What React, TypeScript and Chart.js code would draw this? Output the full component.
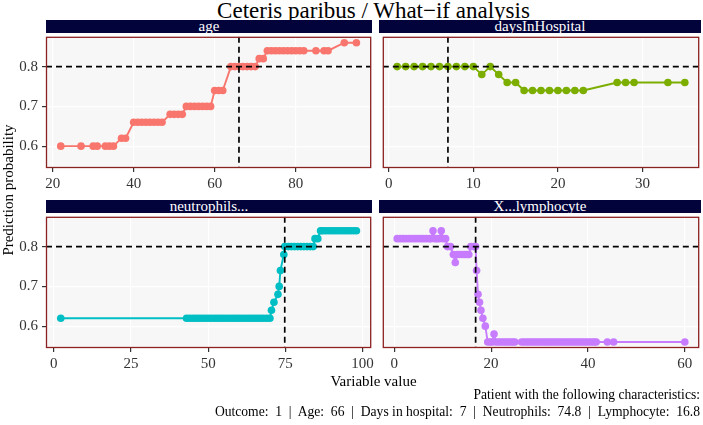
import React, { useEffect, useRef } from "react";
import { Chart, registerables } from "chart.js";

Chart.register(...registerables);

// ---------- data ----------
const panelNames = ["age", "daysInHospital", "neutrophils...", "X...lymphocyte"];
const panelColors = ["#F8766D", "#7CAE00", "#00BFC4", "#C77CFF"];
const observedValues = [66, 7, 74.8, 16.8];
const observedPrediction = 0.8;

const ageX = [22, 27, 30, 31, 33, 34, 35, 37, 38, 40, 41, 42, 43, 44, 45, 46, 47, 49, 50, 51, 52, 53, 54, 55, 56, 57, 58, 59, 60, 61, 62, 64, 65, 66, 67, 68, 69, 70, 71, 72, 73, 74, 75, 76, 77, 78, 79, 80, 81, 82, 85, 87, 88, 92, 95];
const ageY = [0.6, 0.6, 0.6, 0.6, 0.6, 0.6, 0.6, 0.62, 0.62, 0.66, 0.66, 0.66, 0.66, 0.66, 0.66, 0.66, 0.66, 0.68, 0.68, 0.68, 0.68, 0.7, 0.7, 0.7, 0.7, 0.7, 0.7, 0.7, 0.74, 0.74, 0.74, 0.8, 0.8, 0.8, 0.8, 0.8, 0.8, 0.8, 0.82, 0.82, 0.84, 0.84, 0.84, 0.84, 0.84, 0.84, 0.84, 0.84, 0.84, 0.84, 0.84, 0.84, 0.84, 0.86, 0.86];

const daysX = [1, 2, 3, 4, 5, 6, 7, 8, 9, 10, 11, 12, 13, 14, 15, 16, 17, 18, 19, 20, 21, 22, 23, 27, 28, 29, 33, 35];
const daysY = [0.8, 0.8, 0.8, 0.8, 0.8, 0.8, 0.8, 0.8, 0.8, 0.8, 0.78, 0.8, 0.78, 0.76, 0.76, 0.74, 0.74, 0.74, 0.74, 0.74, 0.74, 0.74, 0.74, 0.76, 0.76, 0.76, 0.76, 0.76];

const neutX = [2.3, 43, 44, 45, 46, 47, 48, 49, 50, 51, 52, 53, 54, 55, 56, 57, 58, 59, 60, 61, 62, 63, 64, 65, 66, 67, 68, 69, 70, 70.5, 71.3, 72.6, 73.0, 73.4, 74.5, 74.8, 76, 77, 78, 79, 80, 81, 82, 83, 84, 84.6, 85.5, 86.4, 87, 88, 89, 90, 91, 92, 93, 94, 95, 96, 97, 98];
const neutY = [0.62, 0.62, 0.62, 0.62, 0.62, 0.62, 0.62, 0.62, 0.62, 0.62, 0.62, 0.62, 0.62, 0.62, 0.62, 0.62, 0.62, 0.62, 0.62, 0.62, 0.62, 0.62, 0.62, 0.62, 0.62, 0.62, 0.62, 0.62, 0.62, 0.64, 0.66, 0.68, 0.7, 0.74, 0.78, 0.8, 0.8, 0.8, 0.8, 0.8, 0.8, 0.8, 0.8, 0.8, 0.8, 0.82, 0.82, 0.84, 0.84, 0.84, 0.84, 0.84, 0.84, 0.84, 0.84, 0.84, 0.84, 0.84, 0.84, 0.84];

const lymphX = [0.6, 1.2, 1.8, 2.4, 3.0, 3.6, 4.2, 4.8, 5.4, 6.0, 6.6, 7.2, 7.6, 8.0, 8.4, 8.8, 9.3, 9.7, 10.1, 10.6, 11.0, 11.6, 12.2, 12.6, 13.0, 13.5, 14.0, 14.5, 15.0, 15.4, 15.8, 16.4, 16.8, 17.0, 17.3, 17.6, 17.9, 18.3, 18.8, 19.3, 19.8, 20.2, 20.6, 21.0, 21.5, 22.0, 22.5, 23.0, 23.5, 24.0, 24.5, 24.9, 26.3, 26.8, 27.3, 27.8, 28.3, 28.8, 29.3, 29.8, 30.3, 30.8, 31.3, 31.8, 32.3, 32.8, 33.3, 33.8, 34.3, 34.8, 35.3, 35.8, 36.3, 36.8, 37.3, 37.8, 38.3, 38.8, 39.3, 39.8, 40.3, 40.8, 41.3, 41.7, 44.0, 45.3, 60.0];
const lymphY = [
  0.82, 0.82, 0.82, 0.82, 0.82, 0.82, 0.82, 0.82, 0.82, 0.82, 0.82, 0.82, 0.82,
  0.84,
  0.82, 0.82, 0.82,
  0.84,
  0.82, 0.82,
  0.8, 0.8,
  0.78,
  0.76,
  0.78, 0.78, 0.78, 0.78, 0.78, 0.78,
  0.8, 0.8, 0.8,
  0.74, 0.68, 0.66, 0.64, 0.62, 0.6,
  0.56, 0.56, 0.56,
  0.58,
  0.56, 0.56, 0.56, 0.56, 0.56, 0.56, 0.56, 0.56, 0.56,
  0.56, 0.56, 0.56, 0.56, 0.56, 0.56, 0.56, 0.56, 0.56, 0.56, 0.56, 0.56, 0.56, 0.56, 0.56, 0.56,
  0.56, 0.56, 0.56, 0.56, 0.56, 0.56, 0.56, 0.56, 0.56, 0.56, 0.56, 0.56, 0.56, 0.56, 0.56, 0.56,
  0.56, 0.56, 0.56,
];

const xTickSets = [
  [20, 40, 60, 80],
  [0, 10, 20, 30],
  [0, 25, 50, 75, 100],
  [0, 20, 40, 60],
];
const yTicks = [0.6, 0.7, 0.8];

const seriesX = [ageX, daysX, neutX, lymphX];
const seriesY = [ageY, daysY, neutY, lymphY];

const titleText = "Ceteris paribus / What\u2212if analysis";
const yTitle = "Prediction probability";
const xTitle = "Variable value";
const captionLine1 = "Patient with the following characteristics:";
const captionLine2 = "Outcome:  1  |  Age:  66  |  Days in hospital:  7  |  Neutrophils:  74.8  |  Lymphocyte:  16.8";

// ---------- layout ----------
const FONT = "'Liberation Serif', 'Times New Roman', serif";
const TICK_SIZE = 15;
const STRIP_BG = "#03033c";
const BORDER = "#8b2222";
const PANEL_BG = "#F7F7F7";

const CANVAS_H = 162;
const AXIS_H = 27;
const panelBoxes = [
  { left: 0, top: 33, width: 375, padRight: 3, yAxisW: 46, showY: true },
  { left: 379, top: 33, width: 324, padRight: 2, yAxisW: 0, showY: false },
  { left: 0, top: 213, width: 375, padRight: 3, yAxisW: 46, showY: true },
  { left: 379, top: 213, width: 324, padRight: 2, yAxisW: 0, showY: false },
];

function expand(values: number[]) {
  const mn = Math.min(...values);
  const mx = Math.max(...values);
  const d = (mx - mn) * 0.05;
  return [mn - d, mx + d];
}

const panelDeco = {
  id: "panelDeco",
  beforeDraw(chart: any) {
    const { ctx, chartArea: a } = chart;
    ctx.save();
    ctx.fillStyle = PANEL_BG;
    ctx.fillRect(a.left, a.top, a.right - a.left, a.bottom - a.top);
    ctx.restore();
  },
  afterDatasetsDraw(chart: any, _args: any, opts: any) {
    const { ctx, chartArea: a, scales } = chart;
    const px = scales.x.getPixelForValue(opts.obsX);
    const py = scales.y.getPixelForValue(opts.obsY);
    ctx.save();
    ctx.beginPath();
    ctx.rect(a.left, a.top, a.right - a.left, a.bottom - a.top);
    ctx.clip();
    ctx.strokeStyle = "#000";
    ctx.lineWidth = 1.7;
    ctx.setLineDash([6, 4]);
    ctx.beginPath();
    ctx.moveTo(a.left, py);
    ctx.lineTo(a.right, py);
    ctx.stroke();
    ctx.beginPath();
    ctx.moveTo(px, a.top);
    ctx.lineTo(px, a.bottom);
    ctx.stroke();
    ctx.restore();
    ctx.save();
    ctx.strokeStyle = BORDER;
    ctx.lineWidth = 1.3;
    ctx.strokeRect(a.left + 0.5, a.top + 0.5, a.right - a.left - 1, a.bottom - a.top - 1);
    ctx.restore();
  },
};

function makeChart(canvas: HTMLCanvasElement, i: number, yRange: number[]) {
  const box = panelBoxes[i];
  const xs = seriesX[i];
  const ys = seriesY[i];
  const [xMin, xMax] = expand(xs);
  const xTicks = xTickSets[i];
  const color = panelColors[i];
  return new Chart(canvas, {
    type: "scatter",
    data: {
      datasets: [
        {
          data: xs.map((x, k) => ({ x, y: ys[k] })),
          showLine: true,
          borderColor: color,
          backgroundColor: color,
          pointBackgroundColor: color,
          pointBorderColor: color,
          pointBorderWidth: 0,
          pointRadius: 3.8,
          pointHoverRadius: 3.8,
          borderWidth: 1.9,
          tension: 0,
        },
      ],
    },
    options: {
      animation: false,
      responsive: false,
      events: [],
      layout: { padding: { left: 0, right: box.padRight, top: 0, bottom: 0 } },
      plugins: {
        legend: { display: false },
        tooltip: { enabled: false },
        title: { display: false },
        panelDeco: { obsX: observedValues[i], obsY: observedPrediction },
      } as any,
      scales: {
        x: {
          type: "linear",
          min: xMin,
          max: xMax,
          afterBuildTicks: (s: any) => {
            s.ticks = xTicks.map((v) => ({ value: v }));
          },
          afterFit: (s: any) => {
            s.height = AXIS_H;
            s.paddingLeft = 0;
            s.paddingRight = 0;
          },
          grid: { color: "#ffffff", lineWidth: 1.2, tickColor: "#333333", tickLength: 4, drawTicks: true },
          border: { display: false },
          ticks: {
            autoSkip: false,
            maxRotation: 0,
            padding: 3,
            color: "#333333",
            font: { family: FONT, size: TICK_SIZE },
            callback: (v: any) => String(v),
          },
        },
        y: {
          type: "linear",
          min: yRange[0],
          max: yRange[1],
          afterBuildTicks: (s: any) => {
            s.ticks = yTicks.map((v) => ({ value: v }));
          },
          afterFit: (s: any) => {
            s.width = box.yAxisW;
            s.paddingTop = 0;
            s.paddingBottom = 0;
          },
          grid: {
            color: "#ffffff",
            lineWidth: 1.2,
            tickColor: "#333333",
            tickLength: box.showY ? 4 : 0,
            drawTicks: box.showY,
          },
          border: { display: false },
          ticks: {
            display: box.showY,
            padding: 4,
            color: "#333333",
            font: { family: FONT, size: TICK_SIZE },
            callback: (v: any) => Number(v).toFixed(1),
          },
        },
      },
    } as any,
    plugins: [panelDeco as any],
  });
}

export default function App() {
  const r0 = useRef<HTMLCanvasElement>(null);
  const r1 = useRef<HTMLCanvasElement>(null);
  const r2 = useRef<HTMLCanvasElement>(null);
  const r3 = useRef<HTMLCanvasElement>(null);
  const refs = [r0, r1, r2, r3];

  useEffect(() => {
    const allY = ([] as number[]).concat(...seriesY);
    const yRange = expand(allY);
    const charts = refs.map((r, i) => makeChart(r.current as HTMLCanvasElement, i, yRange));
    return () => charts.forEach((c) => c.destroy());
  }, []);

  const text: React.CSSProperties = { position: "absolute", fontFamily: FONT, color: "#000", whiteSpace: "pre" };

  return (
    <div style={{ position: "absolute", left: 0, top: 0, width: 703, height: 425, background: "#fff", overflow: "hidden" }}>
      <div style={{ ...text, left: 46, width: 655, top: -1, fontSize: 23, lineHeight: "23px", textAlign: "center" }}>{titleText}</div>
      {panelBoxes.map((b, i) => (
        <div
          key={"s" + i}
          style={{
            ...text,
            left: b.left + b.yAxisW,
            width: b.width - b.yAxisW - b.padRight,
            top: b.top - 13,
            height: 13,
            background: STRIP_BG,
            color: "#fff",
            fontSize: 15,
            lineHeight: "13px",
            textAlign: "center",
            overflow: "visible",
          }}
        >
          {panelNames[i]}
        </div>
      ))}
      {panelBoxes.map((b, i) => (
        <canvas
          key={"c" + i}
          ref={refs[i]}
          width={b.width}
          height={CANVAS_H}
          style={{ position: "absolute", left: b.left, top: b.top, width: b.width, height: CANVAS_H }}
        />
      ))}
      <div
        style={{
          ...text,
          left: 8 - 150,
          top: 190 - 9,
          width: 300,
          height: 18,
          lineHeight: "18px",
          fontSize: 15,
          textAlign: "center",
          transform: "rotate(-90deg)",
        }}
      >
        {yTitle}
      </div>
      <div style={{ ...text, left: 46, width: 655, top: 372, fontSize: 15, lineHeight: "18px", textAlign: "center" }}>{xTitle}</div>
      <div style={{ ...text, left: 0, width: 700, top: 386, fontSize: 13.6, lineHeight: "17px", textAlign: "right" }}>
        {captionLine1}
        {"\n"}
        {captionLine2}
      </div>
    </div>
  );
}
